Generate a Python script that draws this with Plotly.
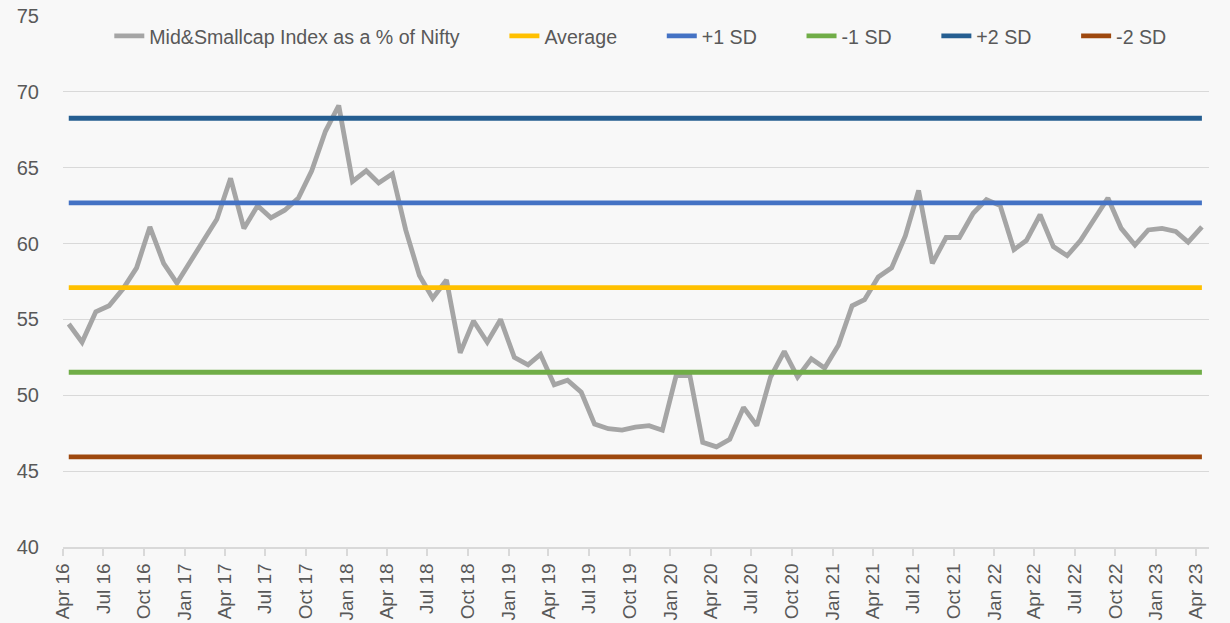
import pandas as pd
import plotly.graph_objects as go

# Monthly observations, Apr 2016 .. Apr 2023 (85 months), plotted mid-month
months = pd.date_range("2016-04-01", periods=85, freq="MS") + pd.Timedelta(days=13)

ratio = [
    54.7, 53.5, 55.5, 55.9, 57.0, 58.4, 61.1, 58.7, 57.4, 58.9,
    60.3, 61.6, 64.3, 61.0, 62.5, 61.7, 62.2, 63.0, 64.8, 67.4,
    69.1, 64.1, 64.8, 64.0, 64.6, 60.9, 57.9, 56.4, 57.6, 52.8,
    54.9, 53.5, 55.0, 52.5, 52.0, 52.7, 50.7, 51.0, 50.2, 48.1,
    47.8, 47.7, 47.9, 48.0, 47.7, 51.3, 51.3, 46.9, 46.6, 47.1,
    49.2, 48.0, 51.2, 52.9, 51.2, 52.4, 51.8, 53.3, 55.9, 56.3,
    57.8, 58.4, 60.5, 63.5, 58.7, 60.4, 60.4, 62.0, 62.9, 62.5,
    59.6, 60.2, 61.9, 59.8, 59.2, 60.2, 61.6, 63.0, 61.0, 59.9,
    60.9, 61.0, 60.8, 60.1, 61.1,
]

average = 57.10
plus_1sd = 62.68
minus_1sd = 51.52
plus_2sd = 68.26
minus_2sd = 45.94

series_names = ["Mid&Smallcap Index as a % of Nifty", "Average", "+1 SD", "-1 SD", "+2 SD", "-2 SD"]
series_colors = ["#A5A5A5", "#FFC000", "#4472C4", "#70AD47", "#255E91", "#9E480E"]
levels = [None, average, plus_1sd, minus_1sd, plus_2sd, minus_2sd]

PAD = "\u00a0" * 7 + "\u200a"  # spacing between legend entries

fig = go.Figure()
for name, color, lvl in zip(series_names, series_colors, levels):
    y = ratio if lvl is None else [lvl] * len(months)
    fig.add_trace(go.Scatter(
        x=months, y=y, mode="lines", name=name + PAD,
        line=dict(color=color, width=4.8),
        hoverinfo="skip",
    ))

font_main = "Liberation Sans, Arial, sans-serif"
fig.update_layout(
    width=1230, height=623,
    margin=dict(l=63, r=21, t=16, b=76, autoexpand=False),
    paper_bgcolor="#F8F8F8",
    plot_bgcolor="#F8F8F8",
    font=dict(family=font_main, size=20, color="#595959"),
    showlegend=True,
    legend=dict(
        orientation="h", x=0.0404, xanchor="left", y=0.962, yanchor="middle",
        bgcolor="rgba(0,0,0,0)", font=dict(family=font_main, size=19.6, color="#595959"),
    ),
    xaxis=dict(
        type="date", automargin=False,
        range=["2016-04-01", "2023-04-30"],
        tickmode="linear", tick0="2016-04-01", dtick="M3",
        tickformat="%b %y", tickangle=-90,
        showgrid=False, zeroline=False,
        showline=True, linecolor="#D9D9D9", linewidth=1.5,
        ticks="outside", ticklen=7, tickcolor="#D9D9D9", tickwidth=1.5,
        tickfont=dict(family=font_main, size=19, color="#595959"),
    ),
    yaxis=dict(
        range=[40, 75], tickmode="linear", tick0=40, dtick=5, automargin=False,
        showgrid=True, gridcolor="#D9D9D9", gridwidth=1.3,
        zeroline=False, showline=False,
        ticks="outside", ticklen=19, tickcolor="rgba(0,0,0,0)",
        tickfont=dict(family=font_main, size=20, color="#595959"),
    ),
)

fig.write_html(
    "out.html",
    config={"displayModeBar": False},
    post_script="document.body.style.margin='0';document.body.style.overflow='hidden';",
)
